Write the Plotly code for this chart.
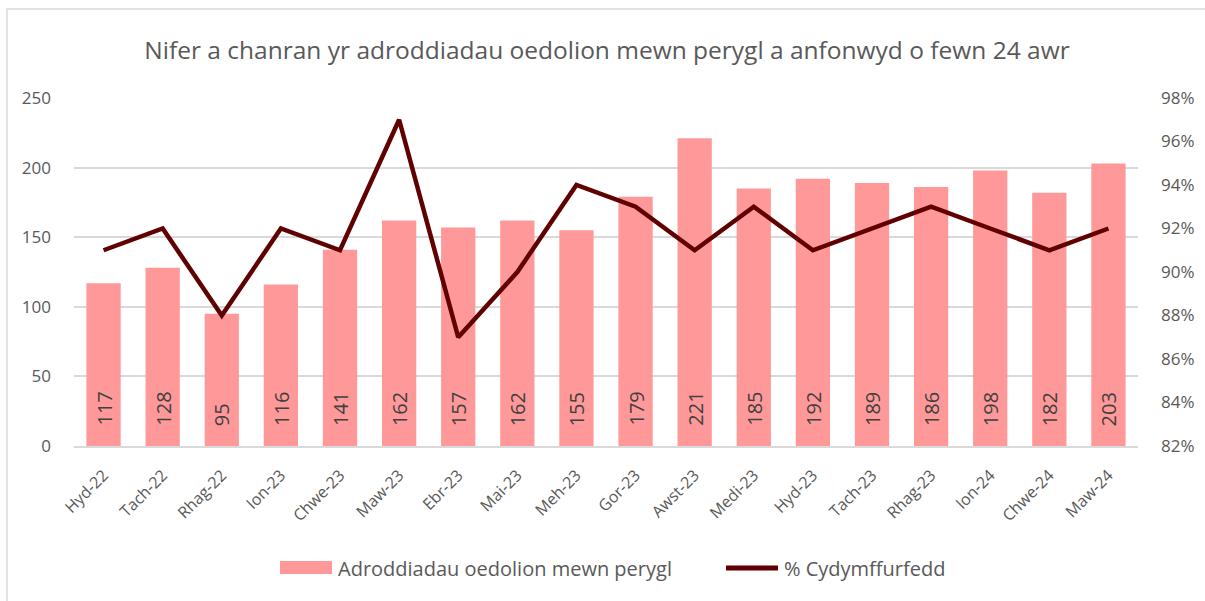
import plotly.graph_objects as go

months = ["Hyd-22", "Tach-22", "Rhag-22", "Ion-23", "Chwe-23", "Maw-23", "Ebr-23", "Mai-23", "Meh-23",
          "Gor-23", "Awst-23", "Medi-23", "Hyd-23", "Tach-23", "Rhag-23", "Ion-24", "Chwe-24", "Maw-24"]
reports = [117, 128, 95, 116, 141, 162, 157, 162, 155, 179, 221, 185, 192, 189, 186, 198, 182, 203]
compliance = [0.91, 0.92, 0.88, 0.92, 0.91, 0.97, 0.87, 0.90, 0.94, 0.93, 0.91, 0.93, 0.91, 0.92, 0.93,
              0.92, 0.91, 0.92]

bar_name = "Adroddiadau oedolion mewn perygl"
line_name = "% Cydymffurfedd"
bar_color = "#FF9999"
line_color = "#600000"

font_family = "Open Sans, Noto Sans, sans-serif"
text_grey = "#595959"

W, H = 1205, 601
L, R, T, B = 74, 67, 98, 155
pw, ph = W - L - R, H - T - B


def px_x(x):
    return (x - L) / pw


def px_y(y):
    return (H - B - y) / ph


fig = go.Figure()
fig.add_trace(go.Bar(
    x=months, y=reports, name=bar_name,
    marker=dict(color=bar_color, line=dict(width=0)),
    showlegend=False,
))
fig.add_trace(go.Scatter(
    x=months, y=compliance, name=line_name, yaxis="y2", mode="lines",
    line=dict(color=line_color, width=4.5), showlegend=False,
))

# value labels written upward from the base of each bar
for m, v in zip(months, reports):
    fig.add_annotation(x=m, y=0, xref="x", yref="y", text=str(v), showarrow=False,
                       textangle=-90, yanchor="bottom", xanchor="center", yshift=18,
                       font=dict(size=20, color="#404040", family=font_family))

fig.update_layout(
    width=W, height=H,
    margin=dict(l=L, r=R, t=T, b=B),
    paper_bgcolor="white", plot_bgcolor="white",
    font=dict(family=font_family, color=text_grey),
    title=dict(text="Nifer a chanran yr adroddiadau oedolion mewn perygl a anfonwyd o fewn 24 awr",
               x=px_x(610), xanchor="center", y=1 - 50 / H, yanchor="middle",
               font=dict(size=24.5, color=text_grey, family=font_family)),
    bargap=0.42,
    xaxis=dict(tickangle=-45, tickfont=dict(size=16, color=text_grey), showgrid=False,
               showline=True, linecolor="#D9D9D9", linewidth=1.5, ticks="",
               ticklabelstandoff=12, automargin=False),
    yaxis=dict(range=[0, 250], dtick=50, tickfont=dict(size=17, color=text_grey),
               gridcolor="#D9D9D9", gridwidth=1.5, zeroline=False, ticks="",
               ticklabelstandoff=22, automargin=False),
    yaxis2=dict(range=[0.82, 0.98], dtick=0.02, tickformat=".0%", overlaying="y", side="right",
                showgrid=False, zeroline=False, tickfont=dict(size=17, color=text_grey),
                ticklabelstandoff=22, automargin=False),
    showlegend=False,
)

# outer chart frame
fig.add_shape(type="rect", xref="paper", yref="paper",
              x0=px_x(7), x1=px_x(W + 5), y0=px_y(H + 5), y1=px_y(9),
              line=dict(color="#D9D9D9", width=1.5), fillcolor="rgba(0,0,0,0)", layer="below")

# legend below the chart
leg_y = 568
fig.add_shape(type="rect", xref="paper", yref="paper",
              x0=px_x(280), x1=px_x(332), y0=px_y(574), y1=px_y(561),
              fillcolor=bar_color, line=dict(width=0))
fig.add_annotation(xref="paper", yref="paper", x=px_x(336), y=px_y(leg_y), text=bar_name,
                   showarrow=False, xanchor="left", yanchor="middle",
                   font=dict(size=20, color=text_grey, family=font_family))
fig.add_shape(type="line", xref="paper", yref="paper",
              x0=px_x(726), x1=px_x(778), y0=px_y(leg_y), y1=px_y(leg_y),
              line=dict(color=line_color, width=5))
fig.add_annotation(xref="paper", yref="paper", x=px_x(782), y=px_y(leg_y), text=line_name,
                   showarrow=False, xanchor="left", yanchor="middle",
                   font=dict(size=20, color=text_grey, family=font_family))

fig.write_html("out.html")
